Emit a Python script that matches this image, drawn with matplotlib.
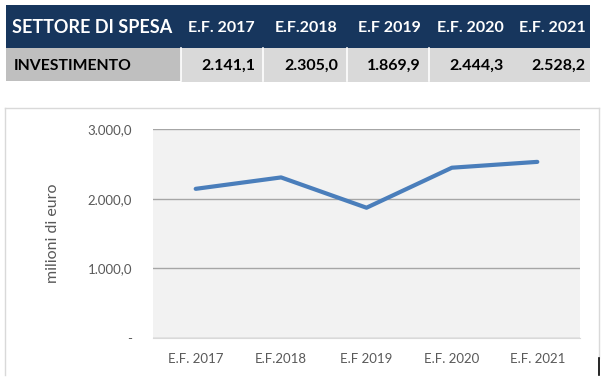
import matplotlib
matplotlib.use('Agg')
import matplotlib.pyplot as plt
import matplotlib.ticker as ticker
from matplotlib.patches import Rectangle

# data
years = ['E.F. 2017', 'E.F.2018', 'E.F 2019', 'E.F. 2020', 'E.F. 2021']
values = [2141.1, 2305.0, 1869.9, 2444.3, 2528.2]
row_label = 'INVESTIMENTO'
header_label = 'SETTORE DI SPESA'
y_ticks = [0, 1000, 2000, 3000]

plt.rcParams['font.family'] = ['Lato', 'DejaVu Sans']

W, H = 604, 391
fig = plt.figure(figsize=(W / 100, H / 100), dpi=100)
fig.set_facecolor('white')


def it_fmt(v, decimals=1):
    s = f'{v:,.{decimals}f}'
    return s.replace(',', 'X').replace('.', ',').replace('X', '.')


# overlay in pixel coordinates for the table and the chart frame
bg = fig.add_axes([0, 0, 1, 1])
bg.set_xlim(0, W)
bg.set_ylim(H, 0)
bg.axis('off')

# table
col_edges = [6, 181, 263, 347, 429, 513, 590]
text_right = [255, 338, 421, 504, 586]
head_top, head_bot, row_bot = 5, 48, 81
navy = '#17365d'

bg.add_patch(Rectangle((col_edges[0], head_top), col_edges[-1] - col_edges[0],
                       head_bot - head_top, color=navy, lw=0))
bg.add_patch(Rectangle((col_edges[0], head_bot), col_edges[1] - col_edges[0],
                       row_bot - head_bot, color='#bfbfbf', lw=0))
bg.add_patch(Rectangle((col_edges[1], head_bot), col_edges[-1] - col_edges[1],
                       row_bot - head_bot + 1, color='#d9d9d9', lw=0))
for xe in col_edges[1:5]:
    bg.plot([xe, xe], [head_bot, row_bot], color='white', lw=1.2)

head_y = (head_top + head_bot) / 2 + 1
row_y = (head_bot + row_bot) / 2 + 1
bg.text(12, head_y, header_label, color='white', fontsize=13, fontweight='bold',
        ha='left', va='center')
bg.text(14, row_y, row_label, color='black', fontsize=11.3, fontweight='bold',
        ha='left', va='center')
for xr, yr, v in zip(text_right, years, values):
    bg.text(xr, head_y, yr, color='white', fontsize=11.5, fontweight='bold',
            ha='right', va='center')
    bg.text(xr, row_y, it_fmt(v), color='black', fontsize=11.5, fontweight='bold',
            ha='right', va='center')

# chart frame
frame_c = '#d9d9d9'
bg.plot([5, 5], [108, 375], color=frame_c, lw=1)
bg.plot([5, 599], [108, 108], color=frame_c, lw=1)
bg.plot([599, 599], [108, 358], color=frame_c, lw=1)
bg.plot([599, 599], [358, 375], color='black', lw=1.2)

# line chart
left, right, top, bottom = 153, 580, 129, 338
ax = fig.add_axes([left / W, (H - bottom) / H, (right - left) / W, (bottom - top) / H])
ax.set_facecolor('#f2f2f2')
x = range(len(years))
ax.plot(x, values, color='#4a7ebb', lw=3, solid_capstyle='round', zorder=3)
ax.set_xlim(-0.5, len(years) - 0.5)
ax.set_ylim(0, 3000)
ax.set_yticks(y_ticks)
ax.yaxis.set_major_formatter(ticker.FuncFormatter(lambda v, p: '-' if v == 0 else it_fmt(v)))
ax.set_xticks(list(x))
ax.set_xticklabels(years)
ax.grid(axis='y', color='#a6a6a6', lw=1)
ax.set_axisbelow(True)
for s in ['top', 'right', 'left']:
    ax.spines[s].set_visible(False)
ax.spines['bottom'].set_color('#d9d9d9')
ax.tick_params(length=0, labelsize=9.5, labelcolor='#595959')
ax.tick_params(axis='y', pad=15)
ax.tick_params(axis='x', pad=11)
ax.set_ylabel('milioni di euro', fontsize=11.5, color='#595959', labelpad=20)

fig.savefig('out.png', dpi=100, facecolor='white')
